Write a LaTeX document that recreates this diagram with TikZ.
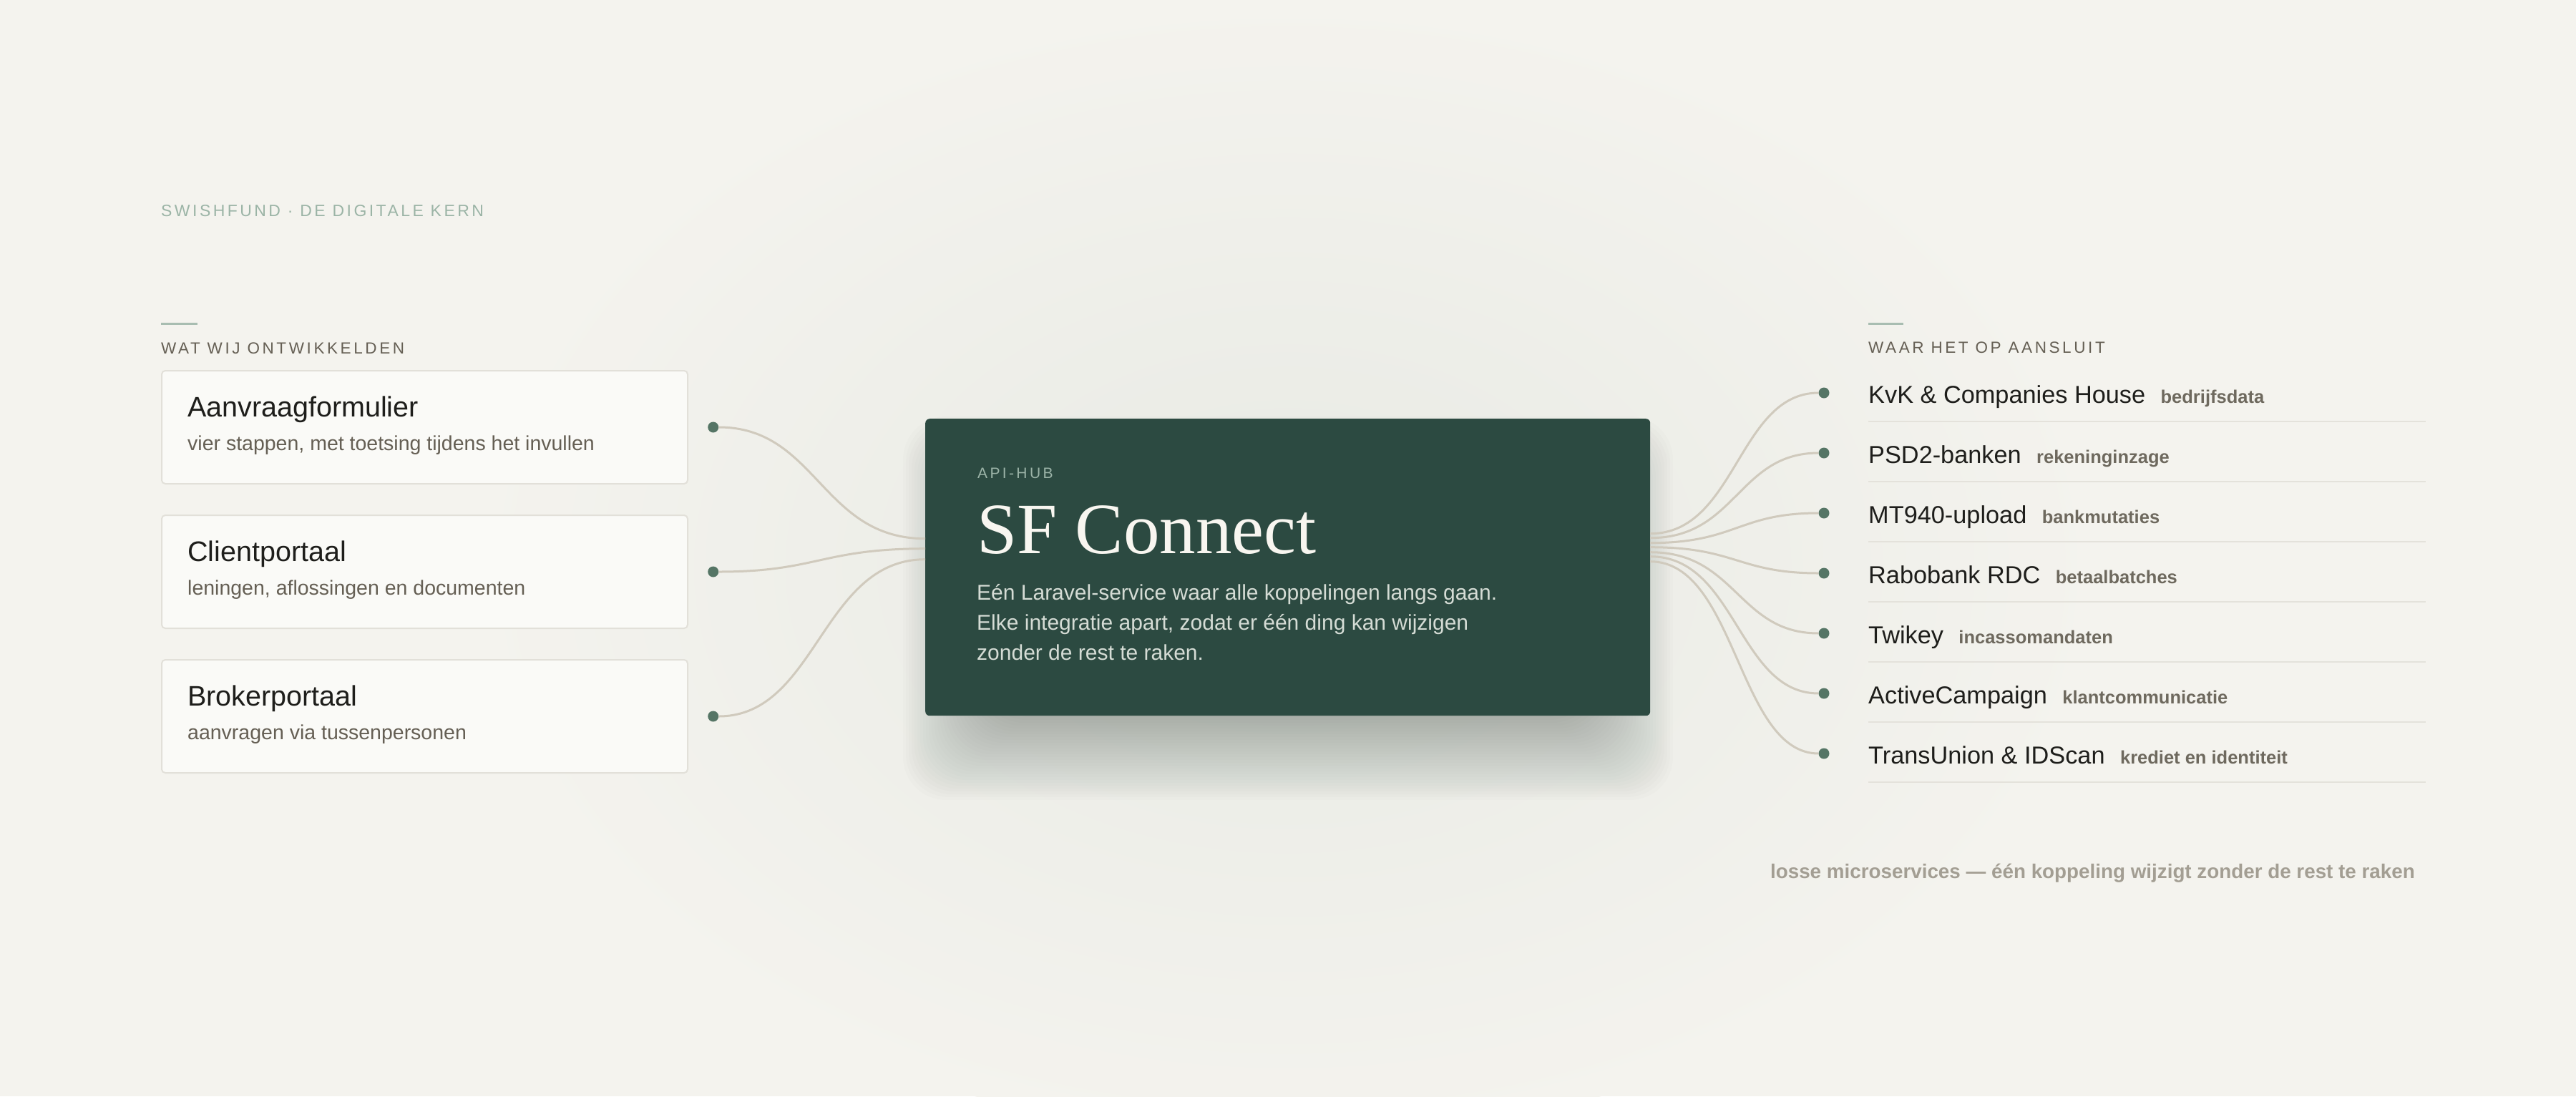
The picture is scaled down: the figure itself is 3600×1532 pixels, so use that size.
\documentclass[tikz,border=0pt]{standalone}
\usepackage{fontspec}
\setmainfont{Liberation Sans}
\newfontfamily\hubserif{Liberation Serif}
\newfontfamily\kickerfont[LetterSpace=16]{Liberation Sans}
\newfontfamily\titlefont[LetterSpace=15]{Liberation Sans}
\newfontfamily\hubkicker[LetterSpace=16]{Liberation Sans}
\usetikzlibrary{positioning}

\definecolor{DEFINE_BG_COLOR}{HTML}{F4F3EE}
\definecolor{DEFINE_GLOW_COLOR}{HTML}{E8EAE4}
\definecolor{DEFINE_HUB_COLOR}{HTML}{2C4A41}
\definecolor{DEFINE_CARD_COLOR}{HTML}{FAFAF7}
\definecolor{DEFINE_EDGE_COLOR}{HTML}{E2E0D9}
\definecolor{DEFINE_DOT_COLOR}{HTML}{557565}
\definecolor{DEFINE_WIRE_COLOR}{HTML}{D0CABD}
\definecolor{DEFINE_RULE_COLOR}{HTML}{E4E2DB}
\definecolor{DEFINE_SAGE_COLOR}{HTML}{9BB4A6}
\definecolor{DEFINE_HEAD_COLOR}{HTML}{655F54}
\definecolor{DEFINE_INK_COLOR}{HTML}{1E1E1B}
\definecolor{DEFINE_MUTED_COLOR}{HTML}{6E695E}
\definecolor{DEFINE_FOOT_COLOR}{HTML}{A39E93}
\definecolor{DEFINE_API_COLOR}{HTML}{9CB4A8}
\definecolor{DEFINE_BODY_COLOR}{HTML}{D5DCD5}
\definecolor{DEFINE_SF_COLOR}{HTML}{F8F6F0}
\definecolor{DEFINE_SHADOW_COLOR}{HTML}{2E3A33}

\tikzstyle{layer}     = [rectangle, inner sep=0pt, rounded corners=5pt]
\tikzstyle{card}      = [layer, draw=DEFINE_EDGE_COLOR, line width=2pt, fill=DEFINE_CARD_COLOR, minimum width=735pt, minimum height=158pt]
\tikzstyle{HUB_LAYER} = [layer, rounded corners=6pt, fill=DEFINE_HUB_COLOR, minimum width=1013pt, minimum height=415pt]
\tikzstyle{hub_shadow}= [fill=DEFINE_SHADOW_COLOR, opacity=0.012, rounded corners=60pt]
\tikzstyle{link_dot}  = [circle, fill=DEFINE_DOT_COLOR, inner sep=0pt, minimum size=15pt]
\tikzstyle{wire}      = [draw=DEFINE_WIRE_COLOR, line width=3pt]
\tikzstyle{sep_line}  = [draw=DEFINE_RULE_COLOR, line width=2pt]
\tikzstyle{head_line} = [draw=DEFINE_SAGE_COLOR!85!DEFINE_BG_COLOR, line width=3pt]
\tikzstyle{txt}       = [inner sep=0pt, anchor=base west]
\tikzstyle{kicker}    = [txt, text=DEFINE_HEAD_COLOR, font=\kickerfont\fontsize{22.5}{27}\selectfont]
\tikzstyle{card_title}= [txt, text=DEFINE_INK_COLOR, font=\fontsize{39.5}{46}\selectfont]
\tikzstyle{card_sub}  = [txt, text=DEFINE_HEAD_COLOR, font=\fontsize{28.5}{34}\selectfont]
\tikzstyle{link_name} = [txt, text=DEFINE_INK_COLOR, font=\fontsize{34.3}{40}\selectfont]
\tikzstyle{link_desc} = [txt, text=DEFINE_MUTED_COLOR, font=\bfseries\fontsize{25.5}{30}\selectfont]

\begin{document}
\begin{tikzpicture}[x=1pt, y=-1pt]

      %%%%%%%%%%%%%%%%%%%%%%%%%%%%%%%%%%%%%%%%%%%%%%%%%
      % BACKGROUND
      %%%%%%%%%%%%%%%%%%%%%%%%%%%%%%%%%%%%%%%%%%%%%%%%%
      \useasboundingbox (0,0) rectangle (3600,1532);
      \fill[DEFINE_BG_COLOR] (0,0) rectangle (3600,1532);
      \begin{scope}
        \clip (0,0) rectangle (3600,1532);
        \shade[inner color=DEFINE_GLOW_COLOR, outer color=DEFINE_BG_COLOR] (1800,792) ellipse [x radius=1150pt, y radius=800pt];
      \end{scope}

      \node[txt, text=DEFINE_SAGE_COLOR, font=\titlefont\fontsize{23}{28}\selectfont] (TITLE) at (225,302) {SWISHFUND · DE DIGITALE KERN};

      %%%%%%%%%%%%%%%%%%%%%%%%%%%%%%%%%%%%%%%%%%%%%%%%%
      % WHAT WE BUILT
      %%%%%%%%%%%%%%%%%%%%%%%%%%%%%%%%%%%%%%%%%%%%%%%%%
      \draw[head_line] (225,452) -- (276,452);
      \node[kicker] (WAT) at (225,494) {WAT WIJ ONTWIKKELDEN};

      \node[card, anchor=north west] (AF) at (225,517) {};
      \node[card, below=42pt of AF] (CP) {};
      \node[card, below=42pt of CP] (BP) {};

      \node[card_title] (AF_T) at ([xshift=37pt, yshift=-65pt]AF.north west) {Aanvraagformulier};
      \node[card_sub]   (AF_S) at ([xshift=37pt, yshift=-112pt]AF.north west) {vier stappen, met toetsing tijdens het invullen};
      \node[card_title] (CP_T) at ([xshift=37pt, yshift=-65pt]CP.north west) {Clientportaal};
      \node[card_sub]   (CP_S) at ([xshift=37pt, yshift=-112pt]CP.north west) {leningen, aflossingen en documenten};
      \node[card_title] (BP_T) at ([xshift=37pt, yshift=-65pt]BP.north west) {Brokerportaal};
      \node[card_sub]   (BP_S) at ([xshift=37pt, yshift=-112pt]BP.north west) {aanvragen via tussenpersonen};

      \node[link_dot, right=27pt of AF.east] (AF_D) {};
      \node[link_dot, right=27pt of CP.east] (CP_D) {};
      \node[link_dot, right=27pt of BP.east] (BP_D) {};

      %%%%%%%%%%%%%%%%%%%%%%%%%%%%%%%%%%%%%%%%%%%%%%%%%
      % API HUB
      %%%%%%%%%%%%%%%%%%%%%%%%%%%%%%%%%%%%%%%%%%%%%%%%%
      \foreach \e in {-60,-56,...,68}
        \fill[hub_shadow] (1330-\e,650-\e) rectangle (2270+\e,1050+\e);

      \node[HUB_LAYER, anchor=north west] (HUB) at (1293,585) {};
      \node[txt, text=DEFINE_API_COLOR, font=\hubkicker\fontsize{21}{25}\selectfont] (API) at ([xshift=73pt, yshift=-83pt]HUB.north west) {API-HUB};
      \node[txt, text=DEFINE_SF_COLOR, font=\hubserif\fontsize{101}{110}\selectfont] (SF) at ([xshift=72pt, yshift=-188pt]HUB.north west) {SF Connect};
      \node[txt, align=left, text=DEFINE_BODY_COLOR, font=\fontsize{30}{42}\selectfont] (BODY) at ([xshift=72pt, yshift=-337pt]HUB.north west)
           {Eén Laravel-service waar alle koppelingen langs gaan.\\Elke integratie apart, zodat er één ding kan wijzigen\\zonder de rest te raken.};

      \coordinate (HL1) at ([yshift=40pt]HUB.west);
      \coordinate (HL2) at ([yshift=26pt]HUB.west);
      \coordinate (HL3) at ([yshift=11pt]HUB.west);
      \coordinate (HR1) at ([yshift=47pt]HUB.east);
      \coordinate (HR2) at ([yshift=41pt]HUB.east);
      \coordinate (HR3) at ([yshift=34pt]HUB.east);
      \coordinate (HR4) at ([yshift=28pt]HUB.east);
      \coordinate (HR5) at ([yshift=21pt]HUB.east);
      \coordinate (HR6) at ([yshift=15pt]HUB.east);
      \coordinate (HR7) at ([yshift=8pt]HUB.east);

      %%%%%%%%%%%%%%%%%%%%%%%%%%%%%%%%%%%%%%%%%%%%%%%%%
      % WHERE IT CONNECTS
      %%%%%%%%%%%%%%%%%%%%%%%%%%%%%%%%%%%%%%%%%%%%%%%%%
      \draw[head_line] (2611,452) -- (2660,452);
      \node[kicker] (WAAR) at (2611,493) {WAAR HET OP AANSLUIT};

      \node[link_dot] (KVK_D) at (2549,549) {};
      \node[link_dot] (PSD_D) at (2549,633) {};
      \node[link_dot] (MT_D)  at (2549,717) {};
      \node[link_dot] (RABO_D) at (2549,801) {};
      \node[link_dot] (TWK_D) at (2549,885) {};
      \node[link_dot] (AC_D)  at (2549,969) {};
      \node[link_dot] (TU_D)  at (2549,1053) {};

      \node[link_name] (KVK)  at (2611,563)  {KvK \& Companies House};
      \node[link_name] (PSD)  at (2611,647)  {PSD2-banken};
      \node[link_name] (MT)   at (2611,731)  {MT940-upload};
      \node[link_name] (RABO) at (2611,815)  {Rabobank RDC};
      \node[link_name] (TWK)  at (2611,899)  {Twikey};
      \node[link_name] (AC)   at (2611,983)  {ActiveCampaign};
      \node[link_name] (TU)   at (2611,1067) {TransUnion \& IDScan};

      \node[link_desc, right=21pt of KVK.base east, anchor=base west]  (KVK_X)  {bedrijfsdata};
      \node[link_desc, right=21pt of PSD.base east, anchor=base west]  (PSD_X)  {rekeninginzage};
      \node[link_desc, right=21pt of MT.base east, anchor=base west]   (MT_X)   {bankmutaties};
      \node[link_desc, right=21pt of RABO.base east, anchor=base west] (RABO_X) {betaalbatches};
      \node[link_desc, right=21pt of TWK.base east, anchor=base west]  (TWK_X)  {incassomandaten};
      \node[link_desc, right=21pt of AC.base east, anchor=base west]   (AC_X)   {klantcommunicatie};
      \node[link_desc, right=21pt of TU.base east, anchor=base west]   (TU_X)   {krediet en identiteit};

      \draw[sep_line] (2611,589)  -- (3390,589);
      \draw[sep_line] (2611,673)  -- (3390,673);
      \draw[sep_line] (2611,757)  -- (3390,757);
      \draw[sep_line] (2611,841)  -- (3390,841);
      \draw[sep_line] (2611,925)  -- (3390,925);
      \draw[sep_line] (2611,1009) -- (3390,1009);
      \draw[sep_line] (2611,1093) -- (3390,1093);

      %%%%%%%%%%%%%%%%%%%%%%%%%%%%%%%%%%%%%%%%%%%%%%%%%
      % WIRES
      %%%%%%%%%%%%%%%%%%%%%%%%%%%%%%%%%%%%%%%%%%%%%%%%%
      \path[wire, to path={.. controls +(145pt,0pt) and +(-145pt,0pt) .. (\tikztotarget)}]
      (AF_D) edge (HL1)
      (CP_D) edge (HL2)
      (BP_D) edge (HL3);

      \path[wire, to path={.. controls +(120pt,0pt) and +(-120pt,0pt) .. (\tikztotarget)}]
      (HR1) edge (KVK_D)
      (HR2) edge (PSD_D)
      (HR3) edge (MT_D)
      (HR4) edge (RABO_D)
      (HR5) edge (TWK_D)
      (HR6) edge (AC_D)
      (HR7) edge (TU_D);

      \node[txt, anchor=base east, text=DEFINE_FOOT_COLOR, font=\bfseries\fontsize{27.8}{32}\selectfont] (FOOT) at (3375,1227)
           {losse microservices — één koppeling wijzigt zonder de rest te raken};

\end{tikzpicture}
\end{document}
